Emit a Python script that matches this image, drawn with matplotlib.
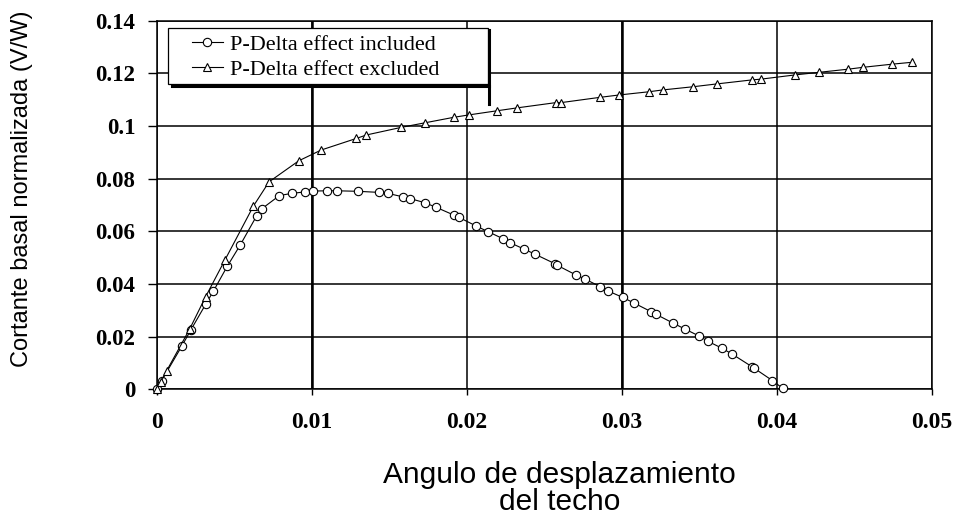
#! /usr/bin/env python3
# Cortante basal normalizada vs angulo de desplazamiento del techo

import matplotlib
matplotlib.use('Agg')
import matplotlib.pyplot as plt
from matplotlib.patches import Rectangle
from matplotlib.lines import Line2D

# P-Delta effect included (circles)
incl_x = [0, 0.0003, 0.00159, 0.00218, 0.00315, 0.00363, 0.00454, 0.00537, 0.00644, 0.00677,
          0.0079, 0.00868, 0.00958, 0.01007, 0.011, 0.01164, 0.01297, 0.0143, 0.0149, 0.01587,
          0.01635, 0.01727, 0.01802, 0.01914, 0.01948, 0.0206, 0.02135, 0.02232, 0.02277, 0.0237,
          0.02436, 0.02571, 0.02579, 0.02704, 0.02764, 0.02859, 0.02908, 0.03005, 0.0308, 0.03187,
          0.03219, 0.03331, 0.03409, 0.03499, 0.03552, 0.03645, 0.0371, 0.03838, 0.03853, 0.03971,
          0.04036]
incl_y = [0, 0.0033, 0.0163, 0.0225, 0.0324, 0.0372, 0.0468, 0.0548, 0.066, 0.0686,
          0.0736, 0.0744, 0.0750, 0.0753, 0.0754, 0.0754, 0.0752, 0.0748, 0.0744, 0.0731,
          0.0724, 0.0709, 0.0691, 0.0662, 0.0653, 0.0620, 0.0599, 0.0572, 0.0557, 0.0532,
          0.0514, 0.0476, 0.0472, 0.0434, 0.0418, 0.0390, 0.0374, 0.0349, 0.0327, 0.0295,
          0.0285, 0.0251, 0.0228, 0.0202, 0.0183, 0.0156, 0.0134, 0.0086, 0.0080, 0.0033,
          0.0004]

# P-Delta effect excluded (triangles)
excl_x = [0, 0.00025, 0.00063, 0.0021, 0.00314, 0.0044, 0.00622, 0.00723, 0.00915, 0.0106,
          0.01287, 0.01351, 0.01577, 0.01727, 0.01914, 0.0201, 0.02195, 0.02324, 0.02575, 0.02608,
          0.02859, 0.02983, 0.03172, 0.03262, 0.03456, 0.03613, 0.03836, 0.03896, 0.04115, 0.04272,
          0.04461, 0.04555, 0.04744, 0.04869]
excl_y = [0, 0.0028, 0.0071, 0.0228, 0.0352, 0.0493, 0.0696, 0.0788, 0.0868, 0.0909,
          0.0953, 0.0966, 0.0995, 0.1012, 0.1033, 0.1042, 0.1058, 0.1069, 0.1089, 0.1089,
          0.1109, 0.1118, 0.1130, 0.1137, 0.1149, 0.1160, 0.1175, 0.1178, 0.1194, 0.1204,
          0.1216, 0.1223, 0.1235, 0.1242]

labels = ["P-Delta effect included", "P-Delta effect excluded"]
xticks = [0, 0.01, 0.02, 0.03, 0.04, 0.05]
xtick_labels = ["0", "0.01", "0.02", "0.03", "0.04", "0.05"]
yticks = [0, 0.02, 0.04, 0.06, 0.08, 0.1, 0.12, 0.14]
ytick_labels = ["0", "0.02", "0.04", "0.06", "0.08", "0.1", "0.12", "0.14"]

serif = "Liberation Serif"
sans = "Liberation Sans"

fig = plt.figure(figsize=(9.55, 5.19), dpi=100)
ax = fig.add_axes([0.1644, 0.2499, 0.8115, 0.7102])

ax.plot(incl_x, incl_y, color='black', lw=0.8, marker='o', ms=6,
        mfc='white', mec='black', mew=0.8, zorder=3, clip_on=False, label=labels[0])
ax.plot(excl_x, excl_y, color='black', lw=0.8, marker='^', ms=6,
        mfc='white', mec='black', mew=0.8, zorder=3, clip_on=False, label=labels[1])

ax.set_xlim(0, 0.05)
ax.set_ylim(0, 0.14)
ax.set_xticks(xticks)
ax.set_xticklabels(xtick_labels, fontfamily=serif, fontweight='bold', fontsize=17)
ax.set_yticks(yticks)
ax.set_yticklabels(ytick_labels, fontfamily=serif, fontweight='bold', fontsize=16.5)
ax.tick_params(axis='x', direction='out', length=4.5, width=1, pad=12)
ax.tick_params(axis='y', direction='out', length=6.5, width=1, pad=9)

ax.set_axisbelow(True)
ax.grid(True, color='black', lw=1.1)
# scanned original has heavier lines at 0.01 and 0.03
for xv in [0.01, 0.03]:
    ax.axvline(xv, color='black', lw=1.8, zorder=1)
for s in ax.spines.values():
    s.set_linewidth(1.1)

# legend box with its heavy shadow
ax.add_patch(Rectangle((0.0146, 0.8283), 0.4129, 0.153, transform=ax.transAxes,
                       fc='white', ec='black', lw=0.9, zorder=5))
ax.add_line(Line2D([0.4288, 0.4288], [0.975, 0.774], transform=ax.transAxes,
                   color='black', lw=2.2, zorder=5))
ax.add_line(Line2D([0.019, 0.4288], [0.8228, 0.8228], transform=ax.transAxes,
                   color='black', lw=2.2, zorder=5))

leg = ax.legend(loc='upper left', bbox_to_anchor=(0.045, 0.964), frameon=False,
                prop={'family': serif, 'size': 16}, handlelength=1.4,
                handletextpad=0.3, labelspacing=0.22, borderpad=0, borderaxespad=0)
leg.set_zorder(6)

fig.text(0.023, 0.636, "Cortante basal normalizada (V/W)", rotation=90,
         ha='center', va='center', fontfamily=sans, fontsize=17)
fig.text(0.586, 0.058, "Angulo de desplazamiento\ndel techo", ha='center', va='center',
         fontfamily=sans, fontsize=21.5, linespacing=0.95)

plt.savefig('out.png', dpi=100)
